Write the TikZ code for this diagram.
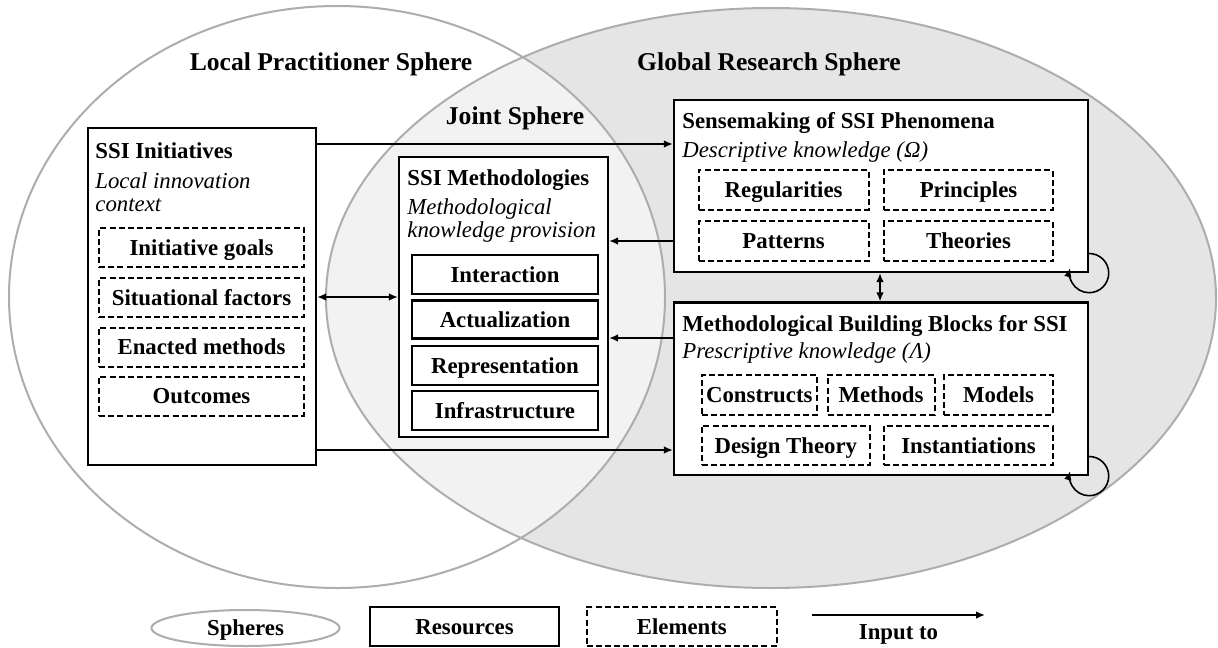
\documentclass[tikz,border=0pt]{standalone}
\usepackage{fontspec}
\setmainfont{Liberation Serif}
\usetikzlibrary{arrows.meta, positioning, shapes.geometric, calc}
\definecolor{spherefill}{HTML}{E5E5E5}
\definecolor{jointfill}{HTML}{F2F2F2}
\definecolor{sphereline}{HTML}{ADADAD}
\newcommand{\boxfont}{\fontsize{11.4}{11.75}\selectfont}
\newcommand{\spherefont}{\fontsize{12.8}{15}\selectfont\bfseries}
\tikzset{
  resource/.style={draw, line width=1.1pt, fill=white, inner sep=0pt, text height=8.5pt, text depth=1pt, font=\boxfont\bfseries},
  element/.style={draw, line width=1pt, dash pattern=on 3pt off 1.6pt, fill=white, inner sep=0pt, minimum height=19.5pt, text height=8.5pt, text depth=1pt, font=\boxfont\bfseries},
  heading/.style={anchor=west, inner sep=0pt, font=\boxfont\bfseries},
  subheading/.style={anchor=west, inner sep=0pt, align=left, font=\boxfont\itshape},
  sphlabel/.style={inner sep=0pt, font=\spherefont},
  input/.style={-{Latex[length=4.5pt,width=3.8pt]}, line width=0.8pt},
  mutual/.style={{Latex[length=4.5pt,width=3.8pt]}-{Latex[length=4.5pt,width=3.8pt]}, line width=0.8pt},
}
\begin{document}
\begin{tikzpicture}[x=0.5pt,y=-0.5pt]
\useasboundingbox (0,0) rectangle (1218,647);
% spheres
\fill[spherefill] (771,298) ellipse [x radius=222.5pt, y radius=145pt];
\begin{scope}
\clip (337,297) ellipse [x radius=164pt, y radius=145.5pt];
\fill[jointfill] (771,298) ellipse [x radius=222.5pt, y radius=145pt];
\end{scope}
\draw[sphereline, line width=1pt] (337,297) ellipse [x radius=164pt, y radius=145.5pt];
\draw[sphereline, line width=1pt] (771,298) ellipse [x radius=222.5pt, y radius=145pt];
\node[sphlabel] (localsph) at (331,64) {Local Practitioner Sphere};
\node[sphlabel] (globalsph) at (769,64) {Global Research Sphere};
\node[sphlabel] (jointsph) at (515,118) {Joint Sphere};

% local initiatives
\node[resource, minimum width=114pt, minimum height=168.5pt] (init) at (202,296.5) {};
\node[heading] (initT) at (95,151) {SSI Initiatives};
\node[subheading] (initS) at (95,192) {Local innovation\\context};
\node[element, minimum width=102.5pt] (goals) at (201.5,247.5) {Initiative goals};
\node[element, minimum width=102.5pt] (sitfac) at (201.5,297.5) {Situational factors};
\node[element, minimum width=102.5pt] (enacted) at (201.5,347) {Enacted methods};
\node[element, minimum width=102.5pt] (outcomes) at (201.5,396) {Outcomes};

% methodologies
\node[resource, minimum width=104.5pt, minimum height=140pt] (meth) at (503.5,297) {};
\node[heading] (methT) at (407,180) {SSI Methodologies};
\node[subheading] (methS) at (407,220.5) {Methodological\\knowledge provision};
\node[resource, minimum width=92.75pt, minimum height=19.5pt] (interact) at (505,274.5) {Interaction};
\node[resource, minimum width=92.75pt, minimum height=19pt] (actual) at (505,319.5) {Actualization};
\node[resource, minimum width=92.75pt, minimum height=19.5pt] (repres) at (505,365.5) {Representation};
\node[resource, minimum width=92.75pt, minimum height=19.5pt] (infra) at (505,410.5) {Infrastructure};

% sensemaking
\node[resource, minimum width=207pt, minimum height=86pt] (sense) at (881,186) {};
\node[heading] (senseT) at (682,123) {Sensemaking of SSI Phenomena};
\node[subheading] (senseS) at (682,152) {Descriptive knowledge (Ω)};
\node[element, minimum width=85pt, minimum height=20pt] (regul) at (783.6,190) {Regularities};
\node[element, minimum width=84.5pt, minimum height=20pt] (princ) at (968.5,190) {Principles};
\node[element, minimum width=85pt, minimum height=20pt] (patt) at (783.6,241.3) {Patterns};
\node[element, minimum width=84.5pt, minimum height=20pt] (theor) at (968.5,241.3) {Theories};

% building blocks
\node[resource, minimum width=207pt, minimum height=86.25pt] (mbb) at (881,388.75) {};
\node[heading] (mbbT) at (682,326) {Methodological Building Blocks for SSI};
\node[subheading] (mbbS) at (682,353.5) {Prescriptive knowledge (Λ)};
\node[element, minimum width=57.7pt, minimum height=20pt] (constr) at (759.3,394.7) {Constructs};
\node[element, minimum width=53.5pt, minimum height=20pt] (methods) at (881,394.7) {Methods};
\node[element, minimum width=54.5pt, minimum height=20pt] (models) at (998.5,394.7) {Models};
\node[element, minimum width=84.2pt, minimum height=19.5pt] (design) at (785.8,445.5) {Design Theory};
\node[element, minimum width=84.5pt, minimum height=19.5pt] (inst) at (968.5,445.5) {Instantiations};

% connectors
\draw[input] (init.east |- 0,144) -- (sense.west |- 0,144);
\draw[input] (init.east |- 0,450) -- (mbb.west |- 0,450);
\draw[mutual] (init.east |- 0,297) -- (meth.west |- 0,297);
\draw[input] (sense.west |- 0,241) -- (meth.east |- 0,241);
\draw[input] (mbb.west |- 0,338) -- (meth.east |- 0,338);
\draw[mutual] (sense.south -| 880,0) -- (mbb.north -| 880,0);
\draw[input] ([yshift=9.8pt]sense.south east) arc[start angle=90, end angle=-195, radius=9.8pt];
\draw[input] ([yshift=9.8pt]mbb.south east) arc[start angle=90, end angle=-195, radius=9.8pt];

% legend
\node[ellipse, draw=sphereline, line width=1pt, fill=white, minimum width=94pt, minimum height=18pt, inner sep=0pt, text height=8.5pt, text depth=1pt, font=\boxfont\bfseries] (legsph) at (245.5,628) {Spheres};
\node[resource, minimum width=94.5pt, minimum height=19.5pt] (legres) at (464.5,626.5) {Resources};
\node[element, minimum width=95.2pt] (legelem) at (681.8,626.5) {Elements};
\coordinate (legA) at (812,615);
\coordinate (legB) at (985,615);
\draw[input] (legA) -- (legB);
\node[inner sep=0pt, font=\boxfont\bfseries] (leginput) at (898.5,634) {Input to};
\end{tikzpicture}
\end{document}
